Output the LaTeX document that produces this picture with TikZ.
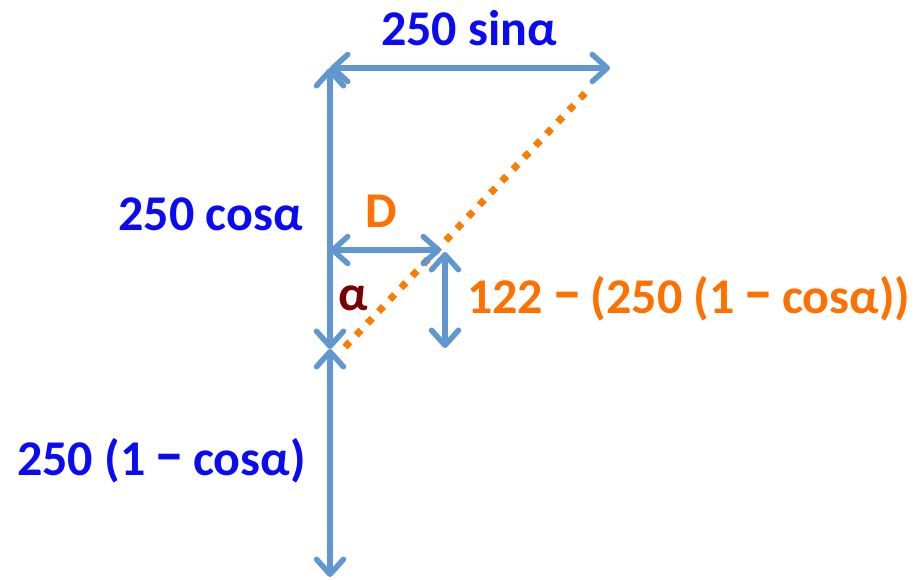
\documentclass[tikz,border=0pt]{standalone}
\usepackage{fontspec}
\setmainfont{Carlito}
\usetikzlibrary{arrows.meta}
\definecolor{flechaazul}{RGB}{96,151,206}
\definecolor{textoazul}{RGB}{10,10,245}
\definecolor{textonaranja}{RGB}{255,112,0}
\definecolor{lineanaranja}{RGB}{250,125,0}
\definecolor{textogranate}{RGB}{120,0,0}
\newcommand{\guion}{\makebox[0.5em][c]{\scalebox{1.2}[1.3]{–}}}

\begin{document}
\begin{tikzpicture}[x=1pt, y=-1pt,
  medida/.style={draw=flechaazul, line width=5.5pt, line cap=round,
    {Straight Barb[length=15pt, width=27pt, round]}-{Straight Barb[length=15pt, width=27pt, round]}},
  rotulo/.style={inner sep=0pt, font=\fontsize{50}{60}\selectfont\bfseries}]
\useasboundingbox (0,0) rectangle (921,579);
% puntos de la figura
\coordinate (arriba) at (330,68);
\coordinate (derecha) at (610,68);
\coordinate (medio) at (330,349);
\coordinate (abajo) at (330,577);
\coordinate (dizq) at (330,250);
\coordinate (dder) at (441,250);
\coordinate (hsup) at (445,252);
\coordinate (hinf) at (445,348);
\coordinate (rinf) at (345,347);
\coordinate (rsup) at (590,88);
% rectas
\draw[lineanaranja, line width=7pt, dash pattern=on 7pt off 9.3pt] (rinf) -- (rsup);
\draw[medida] (arriba) -- (derecha);
\draw[medida] (arriba) -- (medio);
\draw[medida] (medio) -- (abajo);
\draw[medida] (dizq) -- (dder);
\draw[medida] (hsup) -- (hinf);
% rotulos
\node[rotulo, textoazul, anchor=base] (seno) at (469,45) {250 sinα};
\node[rotulo, textoazul, anchor=base east] (coseno) at (303,230) {250 cosα};
\node[rotulo, textonaranja, anchor=base] (dist) at (381,227) {D};
\node[rotulo, textogranate, anchor=base] (angulo) at (353,310) {α};
\node[rotulo, textonaranja, anchor=base west] (altura) at (467,313) {122 \guion{} (250 (1 \guion{} cosα))};
\node[rotulo, textoazul, anchor=base west] (resto) at (17,475) {250 (1 \guion{} cosα)};
\end{tikzpicture}
\end{document}
